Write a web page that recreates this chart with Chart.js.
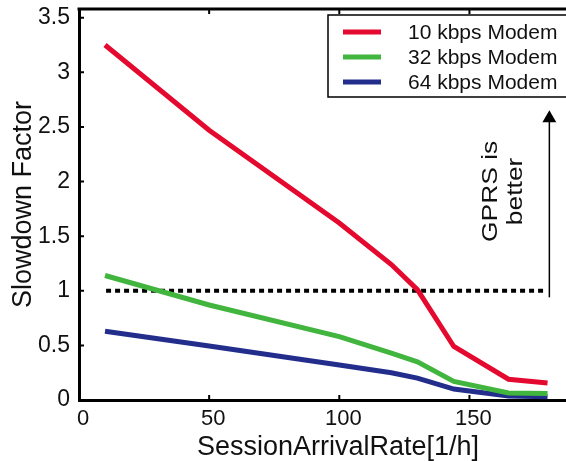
<!DOCTYPE html>
<html>
<head>
<meta charset="utf-8">
<script src="https://cdn.jsdelivr.net/npm/chart.js"></script>
<style>
  html, body { margin: 0; padding: 0; background: #fff; overflow: hidden; }
  #wrap { width: 566px; height: 461px; overflow: hidden; }
</style>
</head>
<body>
<div id="wrap"><canvas id="chart" width="597" height="461"></canvas></div>
<script>
const rates = [10, 50, 100, 120, 130, 144, 165, 180];
const modem10 = [3.25, 2.47, 1.62, 1.24, 1.01, 0.49, 0.19, 0.155];
const modem32 = [1.14, 0.87, 0.58, 0.43, 0.35, 0.17, 0.065, 0.06];
const modem64 = [0.63, 0.495, 0.32, 0.25, 0.2, 0.1, 0.037, 0.03];
const seriesLabels = ["10 kbps Modem", "32 kbps Modem", "64 kbps Modem"];
const thresholdX = [10.4, 179.2];
const thresholdY = [1, 1];
const arrowX = [180.7, 180.7];
const arrowY = [0.94, 2.58];
const xTicks = [0, 50, 100, 150];
const yTicks = [0, 0.5, 1, 1.5, 2, 2.5, 3, 3.5];

const FONT = "'Liberation Sans', Arial, Helvetica, sans-serif";
const colors = ["#e4092e", "#41b53e", "#232e8c"];

const pts = (xs, ys) => xs.map((x, i) => ({ x, y: ys[i] }));

// no extra room for half labels at the ends of the axes
const noPad = (s) => {
  s.paddingTop = 0;
  s.paddingBottom = 0;
  s.paddingLeft = 0;
  s.paddingRight = 0;
};

// inward tick marks, top frame line, boxed legend and the arrow note
const decorations = {
  id: "decorations",
  afterDraw(chart) {
    const { ctx, chartArea: a } = chart;
    const xs = chart.scales.x;
    const ys = chart.scales.y;
    ctx.save();
    ctx.strokeStyle = "#000";
    ctx.lineWidth = 3;
    ctx.beginPath();
    ctx.moveTo(a.left - 1.5, a.top);
    ctx.lineTo(a.right, a.top);
    ctx.stroke();

    ctx.lineWidth = 2;
    ctx.beginPath();
    xTicks.slice(1).forEach((t) => {
      const px = xs.getPixelForValue(t);
      ctx.moveTo(px, a.bottom);
      ctx.lineTo(px, a.bottom - 5);
      ctx.moveTo(px, a.top);
      ctx.lineTo(px, a.top + 5);
    });
    yTicks.slice(1).forEach((t) => {
      const py = ys.getPixelForValue(t);
      ctx.moveTo(a.left, py);
      ctx.lineTo(a.left + 5, py);
    });
    ctx.stroke();

    // legend
    ctx.lineWidth = 1.5;
    ctx.beginPath();
    ctx.moveTo(a.right + 5, 15);
    ctx.lineTo(328, 15);
    ctx.lineTo(328, 97);
    ctx.lineTo(a.right + 5, 97);
    ctx.stroke();
    ctx.font = "21px " + FONT;
    ctx.textBaseline = "middle";
    ctx.fillStyle = "#111";
    seriesLabels.forEach((label, i) => {
      const y = 32 + i * 25;
      ctx.strokeStyle = colors[i];
      ctx.lineWidth = 5;
      ctx.beginPath();
      ctx.moveTo(343, y);
      ctx.lineTo(381, y);
      ctx.stroke();
      ctx.fillText(label, 408, y + 1);
    });

    // rotated note beside the arrow
    const ax = xs.getPixelForValue(arrowX[0]);
    const cy = ys.getPixelForValue(1.91);
    ctx.font = "22px " + FONT;
    ctx.textAlign = "center";
    ctx.textBaseline = "alphabetic";
    [["GPRS is", ax - 52], ["better", ax - 27]].forEach(([txt, x]) => {
      ctx.save();
      ctx.translate(x, cy);
      ctx.rotate(-Math.PI / 2);
      ctx.scale(1.2, 1);
      ctx.fillText(txt, 0, 0);
      ctx.restore();
    });
    ctx.restore();
  },
};

new Chart(document.getElementById("chart"), {
  type: "line",
  data: {
    datasets: [
      { label: seriesLabels[0], data: pts(rates, modem10), borderColor: colors[0], borderWidth: 5 },
      { label: seriesLabels[1], data: pts(rates, modem32), borderColor: colors[1], borderWidth: 5 },
      { label: seriesLabels[2], data: pts(rates, modem64), borderColor: colors[2], borderWidth: 5 },
      {
        label: "threshold",
        data: pts(thresholdX, thresholdY),
        borderColor: "#000",
        borderWidth: 4,
        borderDash: [5, 4],
      },
      {
        label: "arrow",
        data: pts(arrowX, arrowY),
        borderColor: "#000",
        borderWidth: 1.5,
        pointRadius: [0, 8],
        pointStyle: "triangle",
        pointBackgroundColor: "#000",
        pointBorderWidth: 0,
      },
    ],
  },
  options: {
    responsive: false,
    animation: false,
    events: [],
    layout: { autoPadding: false, padding: { top: 9, right: 0, bottom: 0, left: 0 } },
    elements: {
      line: { tension: 0, borderCapStyle: "butt", borderJoinStyle: "miter" },
      point: { radius: 0 },
    },
    plugins: { legend: { display: false }, tooltip: { enabled: false } },
    scales: {
      x: {
        type: "linear",
        min: 0,
        max: 199,
        afterBuildTicks: (s) => { s.ticks = xTicks.map((value) => ({ value })); },
        afterFit: (s) => { s.height = 61; noPad(s); },
        grid: { display: false, drawTicks: false },
        border: { display: true, color: "#000", width: 3 },
        ticks: {
          autoSkip: false,
          maxRotation: 0,
          padding: 6,
          labelOffset: 4,
          color: "#111",
          font: { family: FONT, size: 22 },
          callback: (v) => String(v),
        },
        title: {
          display: true,
          text: "SessionArrivalRate[1/h]",
          color: "#111",
          padding: 0,
          font: { family: FONT, size: 27, lineHeight: 1 },
        },
      },
      y: {
        min: 0,
        max: 3.58,
        afterBuildTicks: (s) => { s.ticks = yTicks.map((value) => ({ value })); },
        afterFit: (s) => { s.width = 79; noPad(s); },
        grid: { display: false, drawTicks: false },
        border: { display: true, color: "#000", width: 3 },
        ticks: {
          autoSkip: false,
          padding: 9,
          color: "#111",
          font: { family: FONT, size: 23 },
          callback: (v) => String(v),
        },
        title: {
          display: true,
          text: "Slowdown Factor",
          color: "#111",
          padding: { top: 10, bottom: 0 },
          font: { family: FONT, size: 27, lineHeight: 1 },
        },
      },
    },
  },
  plugins: [decorations],
});
</script>
</body>
</html>
